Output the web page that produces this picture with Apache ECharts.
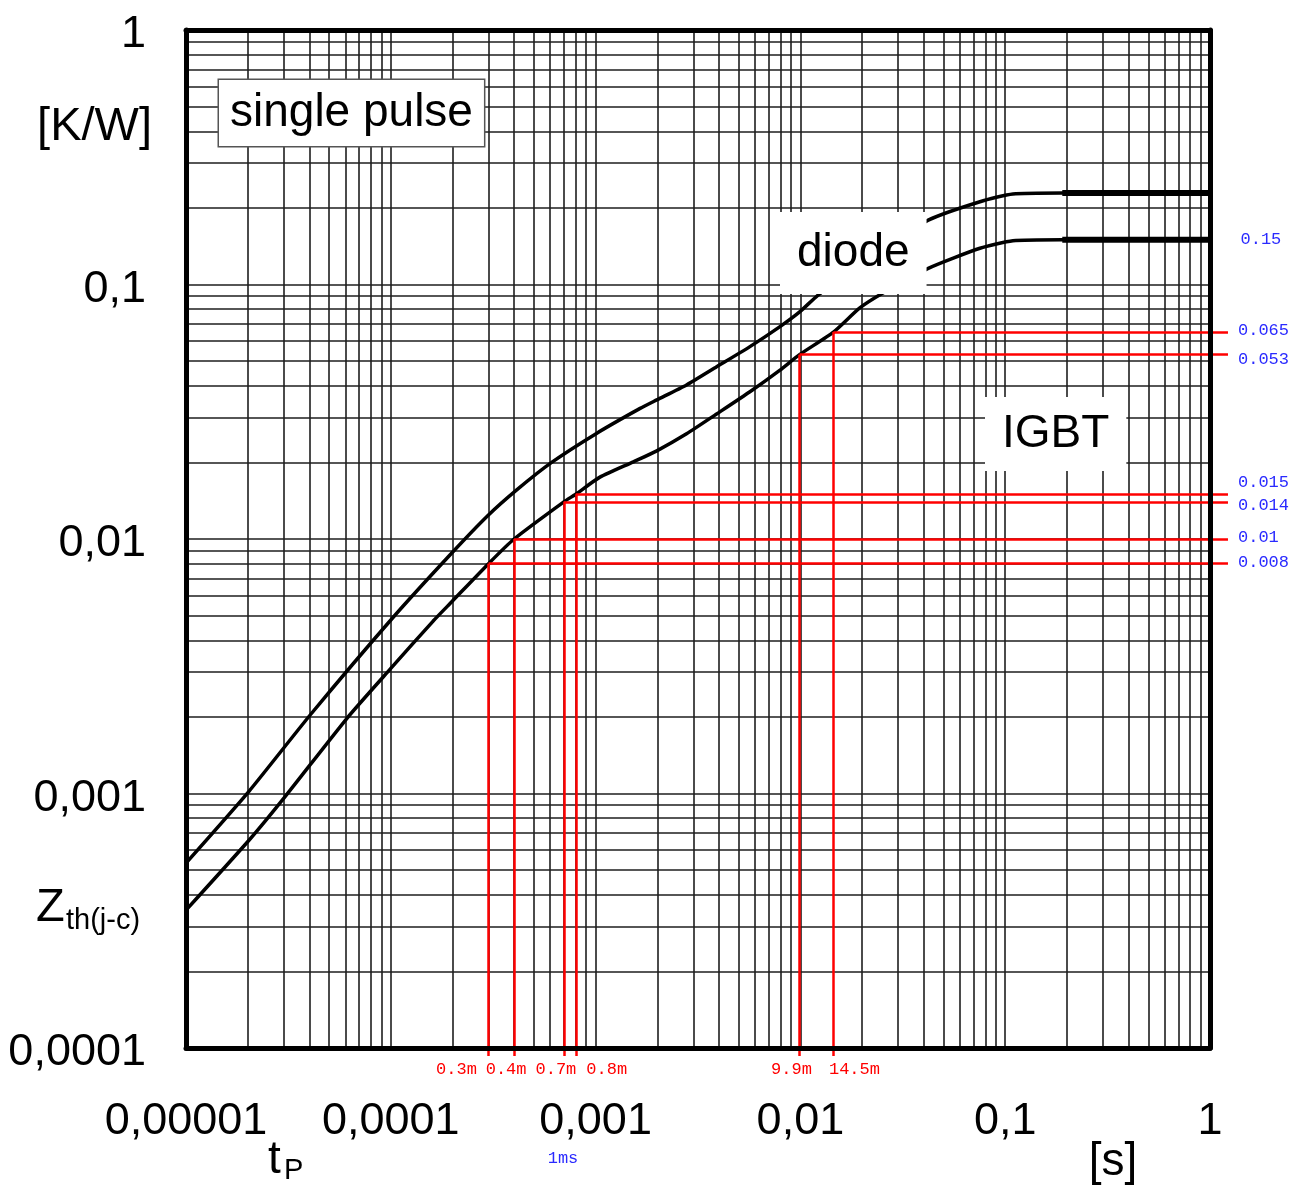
<!DOCTYPE html>
<html>
<head>
<meta charset="utf-8">
<script src="https://cdn.jsdelivr.net/npm/echarts@6/dist/echarts.min.js"></script>
<style>html,body{margin:0;padding:0;background:#fff}#c{width:1309px;height:1187px}</style>
</head>
<body>
<div id="c"></div>
<script>
// ---- axis ticks ----
const xTickValues = [1e-5, 1e-4, 1e-3, 1e-2, 1e-1, 1];
const xTickLabels = ['0,00001', '0,0001', '0,001', '0,01', '0,1', '1'];
const yTickValues = [1e-4, 1e-3, 1e-2, 1e-1, 1];
const yTickLabels = ['0,0001', '0,001', '0,01', '0,1', '1'];

// ---- diode curve (t_p [s], Zth [K/W]) ----
const diodeT = [1e-5, 2.03e-5, 4.03e-5, 1.01e-4, 1.98e-4, 2.99e-4, 4.12e-4, 6.10e-4, 1.01e-3, 1.65e-3, 1.99e-3, 2.78e-3, 3.90e-3, 5.67e-3, 7.95e-3, 9.95e-3, 0.0122, 0.0219, 0.0421, 0.0753, 0.109, 0.19, 1];
const diodeZ = [5.33e-4, 1.02e-3, 2.03e-3, 4.85e-3, 8.79e-3, 0.0124, 0.0156, 0.0200, 0.0260, 0.0326, 0.0352, 0.0403, 0.0475, 0.0570, 0.0683, 0.0782, 0.0909, 0.129, 0.179, 0.2115, 0.227, 0.229, 0.229];

// ---- IGBT curve ----
const igbtT = [1e-5, 2.03e-5, 3.04e-5, 6.11e-5, 1e-4, 1.61e-4, 1.99e-4, 3.0e-4, 4.0e-4, 7.0e-4, 8.0e-4, 1.05e-3, 1.53e-3, 1.99e-3, 2.78e-3, 3.90e-3, 5.67e-3, 7.95e-3, 9.9e-3, 0.0145, 0.0195, 0.0253, 0.0421, 0.0753, 0.109, 0.19, 1];
const igbtZ = [3.48e-4, 6.55e-4, 9.7e-4, 1.975e-3, 3.10e-3, 4.76e-3, 5.68e-3, 0.008, 0.010, 0.014, 0.015, 0.0175, 0.0201, 0.0222, 0.0259, 0.0310, 0.0379, 0.0461, 0.053, 0.065, 0.0809, 0.0926, 0.1158, 0.1388, 0.1486, 0.150, 0.150];
const igbtPlateauLabel = '0.15';

// ---- red read-off annotations ----
const annT = [3.0e-4, 4.0e-4, 7.0e-4, 8.0e-4, 9.9e-3, 14.5e-3];
const annZ = [0.008, 0.010, 0.014, 0.015, 0.053, 0.065];
const annTLabels = ['0.3m', '0.4m', '0.7m', '0.8m', '9.9m', '14.5m'];
const annZLabels = ['0.008', '0.01', '0.014', '0.015', '0.053', '0.065'];

// ---- styling (label offsets, stubs) ----
const annTLabelDx = [-32, -8, -8, 31, -8, 21];
const annZLabelDy = [-1, -2, 4, -12, 5, -2];
const STUB_BELOW = 0.93;  // factor below y-min for red vertical stubs
const STUB_RIGHT = 1.224; // factor beyond x-max for red horizontal stubs

const X_MIN = 1e-5, X_MAX = 1, Y_MIN = 1e-4, Y_MAX = 1;
const SANS = '"Liberation Sans", Arial, Helvetica, sans-serif';
const MONO = '"Liberation Mono", "DejaVu Sans Mono", monospace';
const RED = '#ff0000';
const BLUE = '#2a2aff';

// log grid (1..9 per decade)
const gridX = [];
for (let e = -5; e < 0; e++) for (let m = 1; m <= 9; m++) gridX.push(m * Math.pow(10, e));
gridX.push(1);
const gridY = [];
for (let e = -4; e < 0; e++) for (let m = 1; m <= 9; m++) gridY.push(m * Math.pow(10, e));
gridY.push(1);
const gridLines = [];
gridX.forEach(x => gridLines.push({ coords: [[x, Y_MIN], [x, Y_MAX]] }));
gridY.forEach(y => gridLines.push({ coords: [[X_MIN, y], [X_MAX, y]] }));

function pick(vals, labels, v) {
  const i = vals.findIndex(t => Math.abs(Math.log10(t) - Math.log10(v)) < 1e-6);
  return i >= 0 ? labels[i] : '';
}
const zip = (a, b) => a.map((v, i) => [v, b[i]]);

// red read-off segments: vertical (axis -> curve) and horizontal (curve -> right edge)
const annLines = [];
annT.forEach((t, i) => {
  annLines.push({
    coords: [[t, Y_MIN * STUB_BELOW], [t, annZ[i]]],
    label: { show: true, position: 'start', distance: 5, offset: [annTLabelDx[i], 0],
             formatter: annTLabels[i], color: RED, fontFamily: MONO, fontSize: 17 }
  });
  annLines.push({
    coords: [[t, annZ[i]], [X_MAX * STUB_RIGHT, annZ[i]]],
    label: { show: true, position: 'end', distance: 10, offset: [0, annZLabelDy[i]],
             formatter: annZLabels[i], color: BLUE, fontFamily: MONO, fontSize: 17 }
  });
});

const baseAxis = {
  type: 'log', logBase: 10,
  axisTick: { show: false },
  splitLine: { show: false },
  minorTick: { show: false },
  z: 10
};

const option = {
  backgroundColor: '#fff',
  animation: false,
  grid: { left: 186, right: 99, top: 30, bottom: 139, containLabel: false },
  xAxis: [
    Object.assign({}, baseAxis, {
      position: 'bottom', min: X_MIN, max: X_MAX, splitNumber: 5,
      axisLine: { show: true, lineStyle: { color: '#000', width: 5 } },
      axisLabel: {
        show: true, margin: 51, color: '#000', fontFamily: SANS, fontSize: 45,
        showMinLabel: true, showMaxLabel: true, hideOverlap: false,
        formatter: v => pick(xTickValues, xTickLabels, v)
      }
    }),
    Object.assign({}, baseAxis, {
      position: 'top', min: X_MIN, max: X_MAX, splitNumber: 5,
      axisLine: { show: true, lineStyle: { color: '#000', width: 5 } },
      axisLabel: { show: false }
    })
  ],
  yAxis: [
    Object.assign({}, baseAxis, {
      position: 'left', min: Y_MIN, max: Y_MAX, splitNumber: 4,
      axisLine: { show: true, lineStyle: { color: '#000', width: 5 } },
      axisLabel: {
        show: true, margin: 40, color: '#000', fontFamily: SANS, fontSize: 45,
        showMinLabel: true, showMaxLabel: true, hideOverlap: false,
        formatter: v => '{v|' + pick(yTickValues, yTickLabels, v) + '}',
        rich: { v: { fontFamily: SANS, fontSize: 45, color: '#000', padding: [10, 0, 0, 0] } }
      }
    }),
    Object.assign({}, baseAxis, {
      position: 'right', min: Y_MIN, max: Y_MAX, splitNumber: 4,
      axisLine: { show: true, lineStyle: { color: '#000', width: 5 } },
      axisLabel: { show: false }
    })
  ],
  series: [
    {
      type: 'lines', coordinateSystem: 'cartesian2d', z: 1, silent: true,
      xAxisIndex: 0, yAxisIndex: 0,
      lineStyle: { color: '#1e1e1e', width: 1.6, opacity: 1 },
      data: gridLines
    },
    {
      name: 'diode', type: 'line', z: 3, xAxisIndex: 0, yAxisIndex: 0,
      symbol: 'none', smooth: 0.2,
      lineStyle: { color: '#000', width: 3.5 },
      data: zip(diodeT, diodeZ)
    },
    {
      name: 'IGBT', type: 'line', z: 3, xAxisIndex: 0, yAxisIndex: 0,
      symbol: 'none', smooth: 0.2,
      lineStyle: { color: '#000', width: 3.5 },
      data: zip(igbtT, igbtZ)
    },
    {
      name: 'diode plateau', type: 'line', z: 3, symbol: 'none',
      lineStyle: { color: '#000', width: 6 },
      data: zip(diodeT.slice(-2), diodeZ.slice(-2))
    },
    {
      name: 'IGBT plateau', type: 'line', z: 3, symbol: 'none', clip: false,
      lineStyle: { color: '#000', width: 6 },
      data: zip(igbtT.slice(-2), igbtZ.slice(-2)).map((p, i, arr) => i === arr.length - 1
        ? { value: p, symbol: 'circle', symbolSize: 1, itemStyle: { color: 'rgba(0,0,0,0)' },
            label: { show: true, position: 'right', distance: 30, formatter: igbtPlateauLabel,
                     color: BLUE, fontFamily: MONO, fontSize: 17 } }
        : { value: p })
    },
    {
      name: 'read-off', type: 'lines', coordinateSystem: 'cartesian2d', z: 4, silent: true,
      xAxisIndex: 0, yAxisIndex: 0, clip: false,
      lineStyle: { color: RED, width: 2.5, opacity: 1 },
      data: annLines
    }
  ],
  graphic: [
    { type: 'text', z: 100, x: 219, y: 80,
      style: { text: 'single pulse', font: '46px ' + SANS, fill: '#000', align: 'left', verticalAlign: 'top',
               lineHeight: 46, backgroundColor: '#fff', borderColor: '#555', borderWidth: 1.5, padding: [10, 11] } },
    { type: 'text', z: 100, x: 780, y: 212,
      style: { text: 'diode', font: '46px ' + SANS, fill: '#000', align: 'left', verticalAlign: 'top',
               lineHeight: 46, backgroundColor: '#fff', padding: [18, 17] } },
    { type: 'text', z: 100, x: 985, y: 397,
      style: { text: 'IGBT', font: '46px ' + SANS, fill: '#000', align: 'left', verticalAlign: 'top',
               lineHeight: 46, backgroundColor: '#fff', padding: [14, 17] } },
    { type: 'text', z: 100, x: 152, y: 127,
      style: { text: '[K/W]', font: '47px ' + SANS, fill: '#000', align: 'right', verticalAlign: 'middle' } },
    { type: 'text', z: 100, x: 36, y: 908,
      style: { text: 'Z', font: '47px ' + SANS, fill: '#000', align: 'left', verticalAlign: 'middle' } },
    { type: 'text', z: 100, x: 66, y: 921,
      style: { text: 'th(j-c)', font: '29px ' + SANS, fill: '#000', align: 'left', verticalAlign: 'middle' } },
    { type: 'text', z: 100, x: 268, y: 1160,
      style: { text: 't', font: '46px ' + SANS, fill: '#000', align: 'left', verticalAlign: 'middle' } },
    { type: 'text', z: 100, x: 284, y: 1171,
      style: { text: 'P', font: '29px ' + SANS, fill: '#000', align: 'left', verticalAlign: 'middle' } },
    { type: 'text', z: 100, x: 1113, y: 1162,
      style: { text: '[s]', font: '46px ' + SANS, fill: '#000', align: 'center', verticalAlign: 'middle' } },
    { type: 'text', z: 100, x: 563, y: 1158,
      style: { text: '1ms', font: '17px ' + MONO, fill: BLUE, align: 'center', verticalAlign: 'middle' } }
  ]
};

const chart = echarts.init(document.getElementById('c'), null, { renderer: 'canvas' });
chart.setOption(option);
</script>
</body>
</html>
